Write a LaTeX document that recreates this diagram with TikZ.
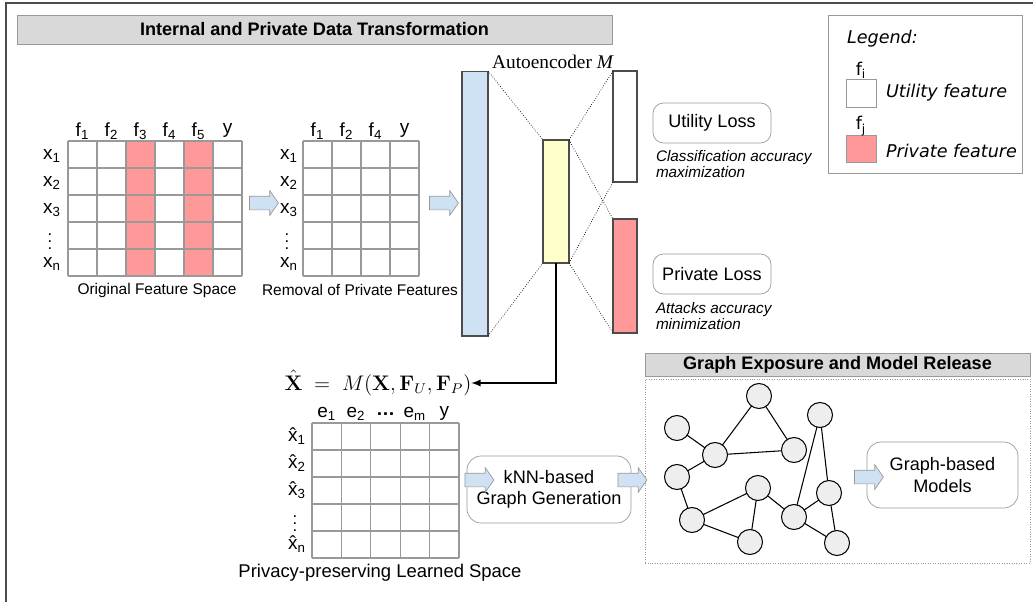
\documentclass[tikz,border=0pt]{standalone}
\usepackage[no-math]{fontspec}
\usepackage{amsmath}
\usepackage{tikz}
\usepackage{xcolor}
\usetikzlibrary{shapes.arrows}
\setmainfont{Liberation Sans}
\newfontfamily\legendfont{DejaVu Sans}
\newfontfamily\timesfont{Liberation Serif}

\definecolor{privred}{HTML}{FF9999}
\definecolor{encblue}{HTML}{CFE2F3}
\definecolor{codeyellow}{HTML}{FFFFCC}
\definecolor{bargray}{HTML}{D9D9D9}
\definecolor{nodegray}{HTML}{EEEEEE}
\definecolor{linegray}{HTML}{999999}

\begin{document}
\begin{tikzpicture}[x=0.02cm, y=0.02cm,
    every node/.style={outer sep=0pt},
    cell/.style={font=\fontsize{10.8}{12}\selectfont, inner sep=0pt},
    rowdots/.style={font=\fontsize{9.5}{10}\selectfont\boldmath, inner sep=0pt},
    caption/.style={font=\fontsize{8.8}{10}\selectfont, inner sep=0pt},
    gridline/.style={draw=linegray, line width=0.6pt},
    layer/.style={draw=black!70, line width=0.6pt, inner sep=0pt},
    dotline/.style={densely dotted, line width=0.4pt},
    roundbox/.style={draw=linegray, rounded corners=6pt, align=center, font=\fontsize{10.3}{12}\selectfont},
    note/.style={anchor=west, align=left, font=\fontsize{8.7}{9.4}\selectfont\itshape, inner sep=0pt},
    titlebar/.style={draw=linegray, fill=bargray, font=\fontsize{10.3}{12}\selectfont\bfseries, inner sep=0pt, minimum height=0.58cm},
    blockarrow/.style={single arrow, draw=linegray, fill=encblue, inner sep=0.13cm, single arrow head extend=0.11cm, single arrow tip angle=110, minimum height=0.58cm},
    graphnode/.style={circle, draw=black, fill=nodegray, minimum size=0.5cm, inner sep=0pt, line width=0.6pt}]
    \useasboundingbox (0,0) rectangle (1036,-602);

    % Frame
    \draw[black!70, line width=1.1pt] (6,-602) -- (6,-3) -- (1033,-3);

    % Internal and private data transformation
    \node[titlebar, minimum width=11.9cm] (title1) at (314.5,-29.5) {Internal and Private Data Transformation};

    % Original feature space
    \fill[privred] (126,-141) rectangle (155,-276);
    \fill[privred] (184,-141) rectangle (213,-276);
    \draw[gridline, xstep=29, ystep=27, shift={(68,-276)}] (0,0) grid (174.1,135.1);
    \node[cell] (of1) at (82.5,-131) {f\textsubscript{1}};
    \node[cell] (of2) at (111.5,-131) {f\textsubscript{2}};
    \node[cell] (of3) at (140.5,-131) {f\textsubscript{3}};
    \node[cell] (of4) at (169.5,-131) {f\textsubscript{4}};
    \node[cell] (of5) at (198.5,-131) {f\textsubscript{5}};
    \node[cell] (ofy) at (227.5,-130) {y};
    \node[cell] (ox1) at (52,-156) {x\textsubscript{1}};
    \node[cell] (ox2) at (52,-183) {x\textsubscript{2}};
    \node[cell] (ox3) at (52,-210) {x\textsubscript{3}};
    \node[rowdots] (oxd) at (50,-236) {$\vdots$};
    \node[cell] (oxn) at (52,-264) {x\textsubscript{n}};
    \node[caption] (origcap) at (157,-290) {Original Feature Space};

    % Removal of private features
    \draw[gridline, xstep=29, ystep=27, shift={(303,-276)}] (0,0) grid (116.1,135.1);
    \node[cell] (rf1) at (317.5,-131) {f\textsubscript{1}};
    \node[cell] (rf2) at (346.5,-131) {f\textsubscript{2}};
    \node[cell] (rf4) at (375.5,-131) {f\textsubscript{4}};
    \node[cell] (rfy) at (404.5,-130) {y};
    \node[cell] (rx1) at (289,-156) {x\textsubscript{1}};
    \node[cell] (rx2) at (289,-183) {x\textsubscript{2}};
    \node[cell] (rx3) at (289,-210) {x\textsubscript{3}};
    \node[rowdots] (rxd) at (287,-236) {$\vdots$};
    \node[cell] (rxn) at (289,-264) {x\textsubscript{n}};
    \node[caption] (remcap) at (360,-290) {Removal of Private Features};

    % Autoencoder
    \node[layer, fill=encblue, minimum width=0.52cm, minimum height=5.3cm] (enc) at (475,-203.5) {};
    \node[layer, fill=codeyellow, minimum width=0.52cm, minimum height=2.46cm] (code) at (556,-201.5) {};
    \node[layer, fill=white, minimum width=0.48cm, minimum height=2.22cm] (utilout) at (625,-126.5) {};
    \node[layer, fill=privred, minimum width=0.48cm, minimum height=2.28cm] (privout) at (625,-276) {};
    \node[font=\fontsize{11}{13}\selectfont\timesfont, inner sep=0pt] (aelabel) at (553,-62) {Autoencoder \textit{M}};
    \draw[dotline] (enc.north east) -- (code.north west);
    \draw[dotline] (enc.south east) -- (code.south west);
    \draw[dotline] (code.north east) -- (utilout.north west);
    \draw[dotline] (code.south east) -- (utilout.south west);
    \draw[dotline] (code.north east) -- (privout.north west);
    \draw[dotline] (code.south east) -- (privout.south west);

    % Losses
    \node[roundbox, minimum width=2.36cm, minimum height=0.8cm] (utilloss) at (712,-123) {Utility Loss};
    \node[note] (utilnote) at (656,-164) {Classification accuracy\\maximization};
    \node[roundbox, minimum width=2.36cm, minimum height=0.8cm] (privloss) at (712,-274) {Private Loss};
    \node[note] (privnote) at (656,-316) {Attacks accuracy\\minimization};

    % Legend
    \node[draw=linegray, minimum width=3.88cm, minimum height=3.16cm] (legendbox) at (925,-94) {};
    \node[anchor=west, font=\fontsize{10}{12}\selectfont\legendfont\itshape, inner sep=0pt] (legendtitle) at (847,-39) {Legend:};
    \node[draw=linegray, fill=white, minimum width=0.6cm, minimum height=0.56cm] (utilsq) at (861,-93) {};
    \node[font=\fontsize{10}{12}\selectfont\legendfont, inner sep=0pt] (fi) at (861,-70) {f\textsubscript{i}};
    \node[anchor=west, font=\fontsize{10}{12}\selectfont\legendfont\itshape, inner sep=0pt] (utiltext) at (886,-93) {Utility feature};
    \node[draw=linegray, fill=privred, minimum width=0.6cm, minimum height=0.54cm] (privsq) at (861,-148.5) {};
    \node[font=\fontsize{10}{12}\selectfont\legendfont, inner sep=0pt] (fj) at (861,-126) {f\textsubscript{j}};
    \node[anchor=west, font=\fontsize{10}{12}\selectfont\legendfont\itshape, inner sep=0pt] (privtext) at (886,-151) {Private feature};

    % Privacy-preserving learned space
    \node[font=\fontsize{12}{14}\selectfont, inner sep=0pt] (recon) at (378,-383) {$\hat{\mathbf{X}}\;=\;M(\mathbf{X},\mathbf{F}_U,\mathbf{F}_P)$};
    \draw[-latex, line width=0.8pt] (code.south) |- (recon.east);
    \draw[gridline, xstep=29.4, ystep=27, shift={(312,-558)}] (0,0) grid (147.1,135.1);
    \node[cell] (le1) at (326.7,-414) {e\textsubscript{1}};
    \node[cell] (le2) at (356.1,-414) {e\textsubscript{2}};
    \node[cell, font=\fontsize{10.8}{12}\selectfont\bfseries] (ledots) at (385.5,-414) {\dots};
    \node[cell] (lem) at (414.9,-414) {e\textsubscript{m}};
    \node[cell] (ley) at (444.3,-413) {y};
    \node[cell] (lx1) at (297,-436) {\^{x}\textsubscript{1}};
    \node[cell] (lx2) at (297,-463) {\^{x}\textsubscript{2}};
    \node[cell] (lx3) at (297,-490) {\^{x}\textsubscript{3}};
    \node[rowdots] (lxd) at (295,-518) {$\vdots$};
    \node[cell] (lxn) at (297,-544) {\^{x}\textsubscript{n}};
    \node[font=\fontsize{10.5}{12}\selectfont, inner sep=0pt] (learncap) at (380,-573) {Privacy-preserving Learned Space};

    % Graph generation
    \node[roundbox, minimum width=3.28cm, minimum height=1.34cm, rounded corners=8pt] (knn) at (549,-489.5) {kNN-based\\Graph Generation};

    % Graph exposure and model release
    \node[titlebar, minimum width=7.7cm, minimum height=0.46cm] (title2) at (837.5,-364.5) {Graph Exposure and Model Release};
    \node[draw=linegray, densely dotted, minimum width=7.7cm, minimum height=3.68cm] (graphpanel) at (837.5,-471) {};
    \node[graphnode] (n1) at (677,-428) {};
    \node[graphnode] (n2) at (759,-396) {};
    \node[graphnode] (n3) at (715,-455) {};
    \node[graphnode] (n4) at (794,-450) {};
    \node[graphnode] (n5) at (820,-415) {};
    \node[graphnode] (n6) at (677,-477) {};
    \node[graphnode] (n7) at (758,-488) {};
    \node[graphnode] (n8) at (692,-520) {};
    \node[graphnode] (n9) at (794,-517) {};
    \node[graphnode] (n10) at (829,-493) {};
    \node[graphnode] (n11) at (750,-542) {};
    \node[graphnode] (n12) at (837,-543) {};
    \draw[line width=0.6pt] (n1) -- (n3) (n3) -- (n2) (n2) -- (n4) (n3) -- (n4)
        (n3) -- (n6) (n6) -- (n8) (n8) -- (n7) (n8) -- (n11) (n7) -- (n11)
        (n7) -- (n9) (n9) -- (n5) (n5) -- (n10) (n9) -- (n10) (n9) -- (n12) (n10) -- (n12);
    \node[roundbox, minimum width=3.02cm, minimum height=1.32cm, rounded corners=8pt] (gmodels) at (942.5,-475) {Graph-based\\Models};

    % Flow arrows
    \node[blockarrow] (arrA) at (261.5,-203) {};
    \node[blockarrow] (arrB) at (441.5,-203) {};
    \node[blockarrow] (arrC) at (477,-480) {};
    \node[blockarrow] (arrD) at (630,-480) {};
    \node[blockarrow] (arrE) at (866.5,-477) {};

\end{tikzpicture}
\end{document}
